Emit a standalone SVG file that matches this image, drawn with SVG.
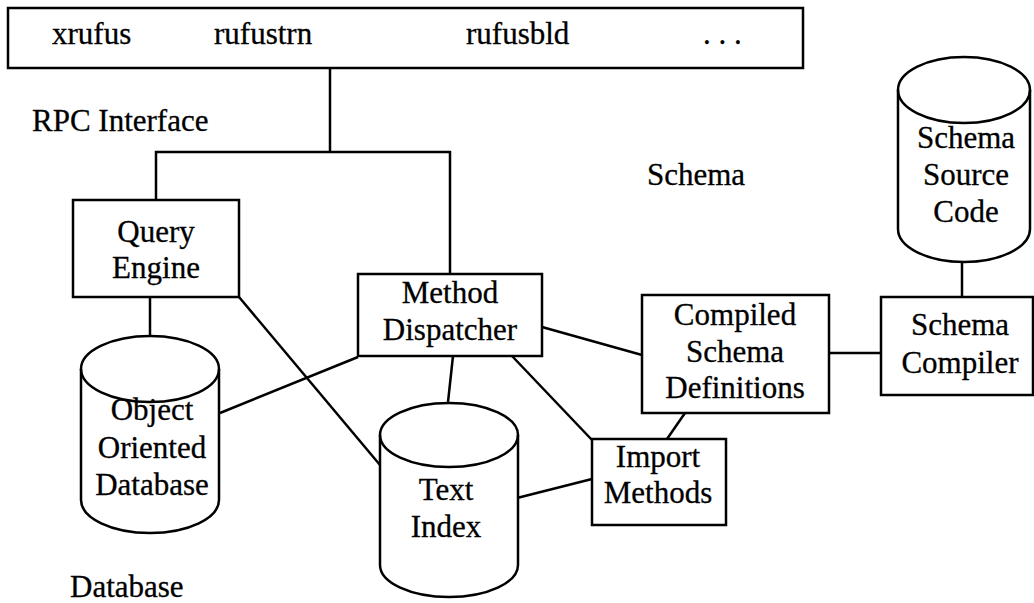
<svg xmlns="http://www.w3.org/2000/svg" width="1034" height="603" viewBox="0 0 1034 603">
<style>
.s{fill:none;stroke:#000;stroke-width:2.5}
.b{fill:#fff;stroke:#000;stroke-width:2.5}
text{font-family:"Liberation Serif","Times New Roman",serif;font-size:31px;fill:#000;stroke:#000;stroke-width:0.3}
.c{text-anchor:middle}
</style>
<rect width="1034" height="603" fill="#fff"/>
<g id="connectors" class="s">
<polyline points="330,68 330,152"/>
<polyline points="156,200 156,152 450,152 450,274"/>
<line x1="150" y1="297" x2="150" y2="336"/>
<line x1="239" y1="297" x2="380" y2="465"/>
<line x1="358" y1="357" x2="220" y2="413"/>
<line x1="453" y1="356" x2="448" y2="402"/>
<line x1="542" y1="327" x2="642" y2="355"/>
<line x1="512" y1="356" x2="592" y2="440"/>
<line x1="685" y1="413" x2="667" y2="439"/>
<line x1="517" y1="498" x2="592" y2="479"/>
<line x1="829" y1="353" x2="881" y2="353"/>
<line x1="962" y1="262" x2="962" y2="297"/>
</g>
<g id="topbar">
<rect class="b" x="8" y="8" width="795" height="60"/>
<text x="52" y="44">xrufus</text>
<text x="214" y="44">rufustrn</text>
<text x="466" y="44">rufusbld</text>
<text x="703" y="44">. . .</text>
</g>
<g id="labels">
<text x="32" y="131">RPC Interface</text>
<text x="647" y="185">Schema</text>
<text x="70" y="597">Database</text>
</g>
<g id="query-engine">
<rect class="b" x="73" y="200" width="166" height="97"/>
<text class="c" x="156" y="242">Query</text>
<text class="c" x="156" y="278">Engine</text>
</g>
<g id="method-dispatcher">
<rect class="b" x="358" y="274" width="184" height="82"/>
<text class="c" x="450" y="303">Method</text>
<text class="c" x="450" y="340">Dispatcher</text>
</g>
<g id="object-db">
<path class="b" d="M81,369 L81,500 A69,33 0 0 0 219,500 L219,369 A69,33 0 0 0 81,369 Z"/>
<path class="s" d="M81,369 A69,33 0 0 0 219,369"/>
<text class="c" x="152" y="420">Object</text>
<text class="c" x="152" y="458">Oriented</text>
<text class="c" x="152" y="495">Database</text>
</g>
<g id="text-index">
<path class="b" d="M380,435 L380,565 A69,32 0 0 0 518,565 L518,435 A69,32 0 0 0 380,435 Z"/>
<path class="s" d="M380,435 A69,32 0 0 0 518,435"/>
<text class="c" x="446" y="500">Text</text>
<text class="c" x="446" y="537">Index</text>
</g>
<g id="compiled-schema">
<rect class="b" x="642" y="295" width="187" height="118"/>
<text class="c" x="735" y="325">Compiled</text>
<text class="c" x="735" y="362">Schema</text>
<text class="c" x="735" y="398">Definitions</text>
</g>
<g id="import-methods">
<rect class="b" x="592" y="439" width="134" height="86"/>
<text class="c" x="658" y="467">Import</text>
<text class="c" x="658" y="503">Methods</text>
</g>
<g id="schema-compiler">
<rect class="b" x="881" y="297" width="152" height="98"/>
<text class="c" x="960" y="335">Schema</text>
<text class="c" x="960" y="373">Compiler</text>
</g>
<g id="schema-source">
<path class="b" d="M898,90 L898,229 A66,33 0 0 0 1030,229 L1030,90 A66,33 0 0 0 898,90 Z"/>
<path class="s" d="M898,90 A66,33 0 0 0 1030,90"/>
<text class="c" x="966" y="148">Schema</text>
<text class="c" x="966" y="185">Source</text>
<text class="c" x="966" y="222">Code</text>
</g>
</svg>
